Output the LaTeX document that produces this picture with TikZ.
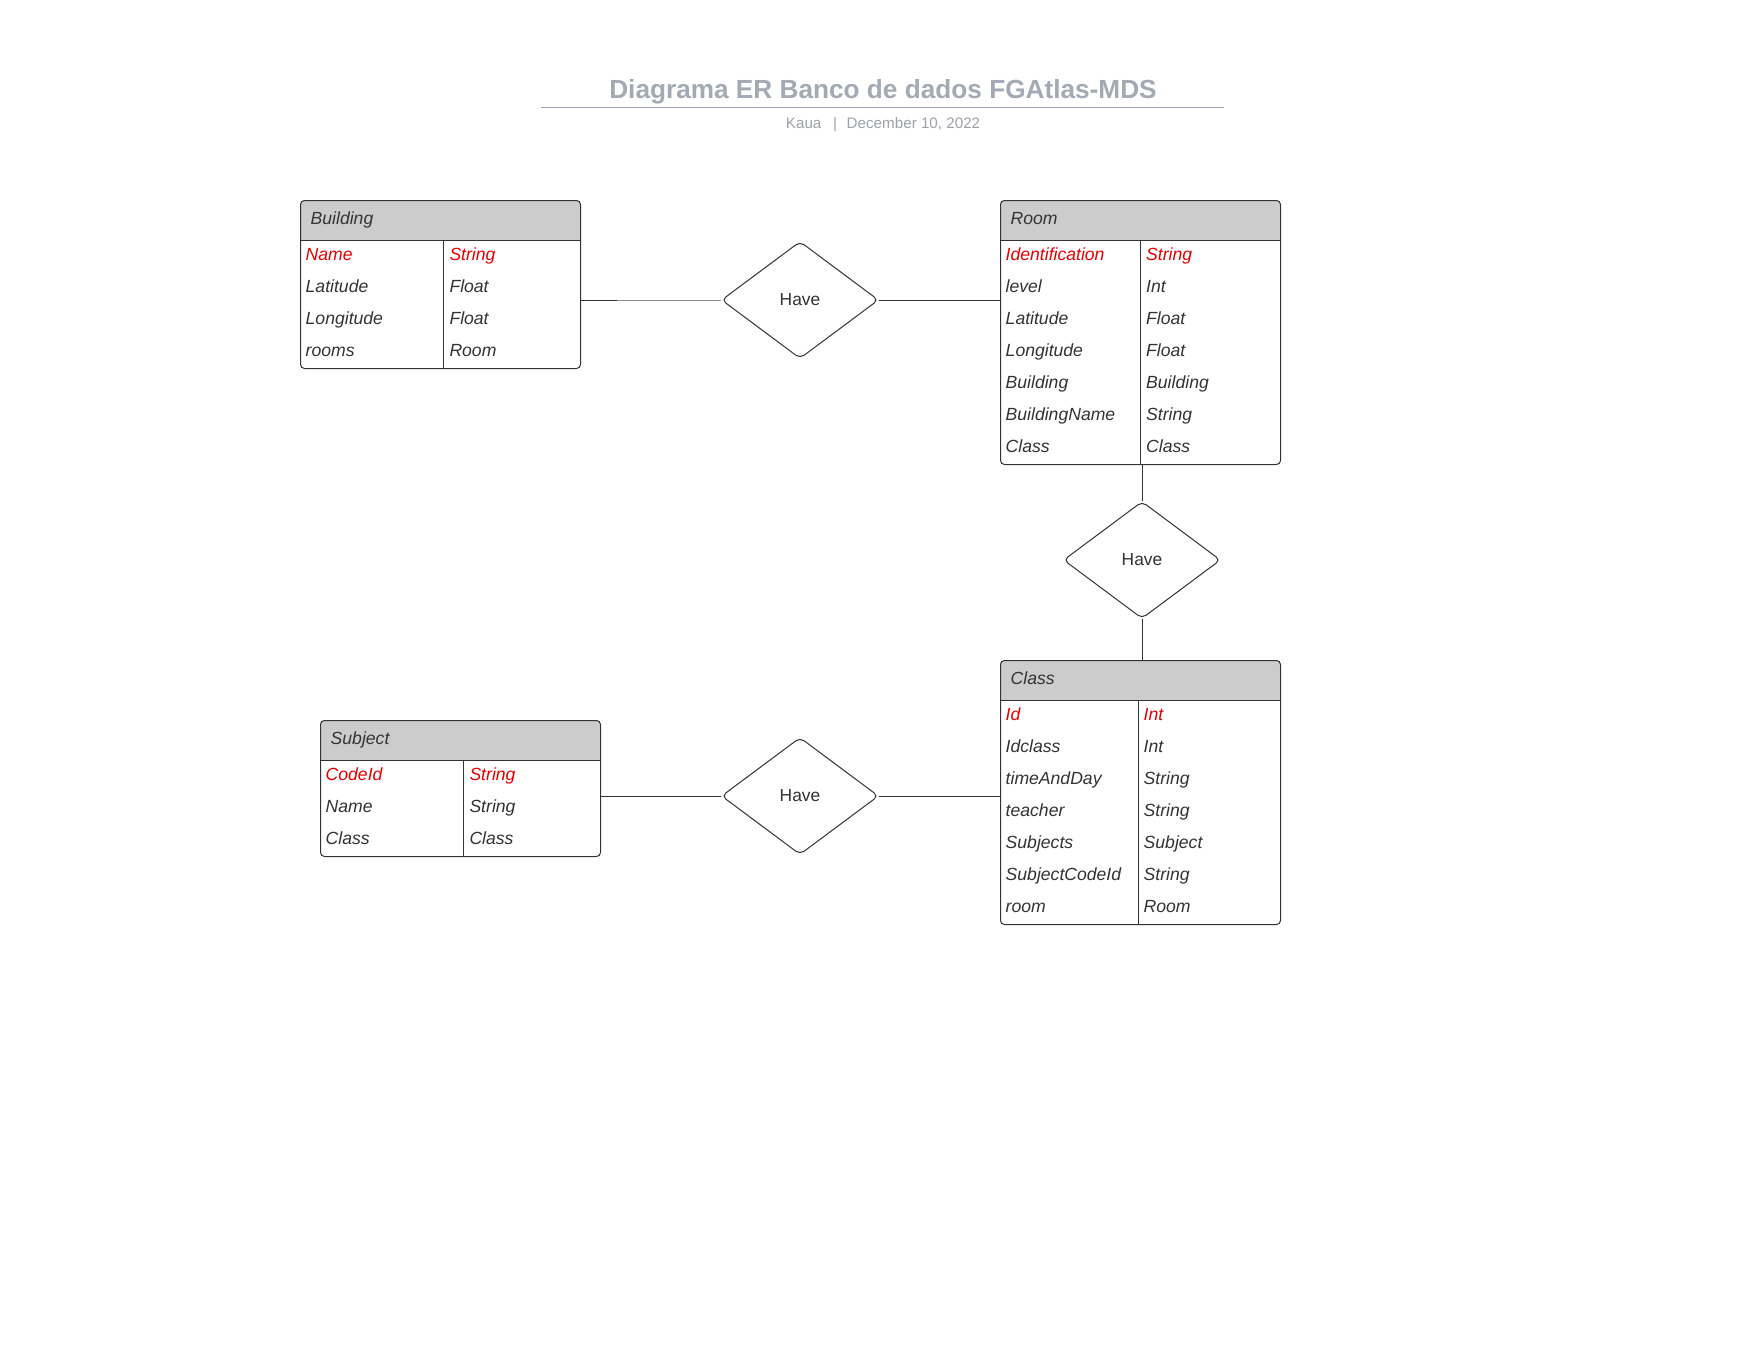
\documentclass[tikz,border=0pt]{standalone}
\usepackage{fontspec}
\setmainfont{Liberation Sans}
\usetikzlibrary{shapes.geometric}
\definecolor{ink}{HTML}{333333}
\definecolor{keyred}{HTML}{E50000}
\definecolor{headgray}{HTML}{CCCCCC}
\definecolor{titlegray}{HTML}{A3AAB4}
\definecolor{subgray}{HTML}{9EA2A8}
\definecolor{rulegray}{HTML}{9AA1AD}
\tikzset{
  tablebox/.style={draw=ink, line width=1pt, rounded corners=4pt, inner sep=0pt, anchor=north west},
  attr/.style={anchor=base west, inner sep=0pt, text=ink, font=\fontsize{17.6pt}{20pt}\selectfont\itshape},
  keyattr/.style={attr, text=keyred},
  rel/.style={diamond, draw=ink, line width=1pt, rounded corners=5pt, inner sep=0pt,
    minimum width=157pt, minimum height=117pt, font=\fontsize{17.4pt}{20pt}\selectfont, text=ink},
  conn/.style={draw=ink, line width=0.9pt},
  grid/.style={draw=ink, line width=1pt},
}
\begin{document}
\begin{tikzpicture}[x=1pt,y=-1pt]
\useasboundingbox[fill=white] (0,0) rectangle (1760,1360);

% Title
\node[anchor=base, inner sep=0pt, text=titlegray, font=\fontsize{26.2pt}{30pt}\selectfont\bfseries] (title) at (883,98) {Diagrama ER Banco de dados FGAtlas-MDS};
\coordinate (rl) at (541,107.7);
\coordinate (rr) at (1223.5,107.7);
\draw[rulegray, line width=1.4pt] (rl) -- (rr);
\node[anchor=base west, inner sep=0pt, text=subgray, font=\fontsize{15.2pt}{18pt}\selectfont] (author) at (785.7,128.3) {Kaua};
\node[anchor=base, inner sep=0pt, text=subgray, font=\fontsize{15.2pt}{18pt}\selectfont] (sep) at (835,128.3) {|};
\node[anchor=base west, inner sep=0pt, text=subgray, font=\fontsize{15.2pt}{18pt}\selectfont] (date) at (846.5,128.3) {December 10, 2022};

% ---------- Building ----------
\begin{scope}
\clip[rounded corners=4pt] (300,200) rectangle (580,368);
\fill[headgray] (300,200) rectangle (580,240.5);
\end{scope}
\node[tablebox, minimum width=280pt, minimum height=168pt] (bld) at (300,200) {};
\draw[grid] (300,240.5) -- (580,240.5);
\draw[grid] (443.3,240.5) -- (443.3,368);
\node[attr] (bld-h) at (310.5,224.8) {Building};
\node[keyattr] (bld-a1) at (305.5,260.3) {Name};
\node[keyattr] (bld-t1) at (449.3,260.3) {String};
\foreach \a/\t [count=\i from 2] in {Latitude/Float,Longitude/Float,rooms/Room}{
  \node[attr] (bld-a\i) at (305.5,{260.3+32*(\i-1)}) {\a};
  \node[attr] (bld-t\i) at (449.3,{260.3+32*(\i-1)}) {\t};
}

% ---------- Room ----------
\begin{scope}
\clip[rounded corners=4pt] (1000,200) rectangle (1280,464);
\fill[headgray] (1000,200) rectangle (1280,240.5);
\end{scope}
\node[tablebox, minimum width=280pt, minimum height=264pt] (room) at (1000,200) {};
\draw[grid] (1000,240.5) -- (1280,240.5);
\draw[grid] (1140.7,240.5) -- (1140.7,464);
\node[attr] (room-h) at (1010.5,224.8) {Room};
\node[keyattr] (room-a1) at (1005.5,260.3) {Identification};
\node[keyattr] (room-t1) at (1146,260.3) {String};
\foreach \a/\t [count=\i from 2] in {level/Int,Latitude/Float,Longitude/Float,Building/Building,BuildingName/String,Class/Class}{
  \node[attr] (room-a\i) at (1005.5,{260.3+32*(\i-1)}) {\a};
  \node[attr] (room-t\i) at (1146,{260.3+32*(\i-1)}) {\t};
}

% ---------- Class ----------
\begin{scope}
\clip[rounded corners=4pt] (1000,660) rectangle (1280,924);
\fill[headgray] (1000,660) rectangle (1280,700.5);
\end{scope}
\node[tablebox, minimum width=280pt, minimum height=264pt] (cls) at (1000,660) {};
\draw[grid] (1000,700.5) -- (1280,700.5);
\draw[grid] (1138.3,700.5) -- (1138.3,924);
\node[attr] (cls-h) at (1010.5,684.8) {Class};
\node[keyattr] (cls-a1) at (1005.5,720.5) {Id};
\node[keyattr] (cls-t1) at (1143.5,720.5) {Int};
\foreach \a/\t [count=\i from 2] in {Idclass/Int,timeAndDay/String,teacher/String,Subjects/Subject,SubjectCodeId/String,room/Room}{
  \node[attr] (cls-a\i) at (1005.5,{720.5+32*(\i-1)}) {\a};
  \node[attr] (cls-t\i) at (1143.5,{720.5+32*(\i-1)}) {\t};
}

% ---------- Subject ----------
\begin{scope}
\clip[rounded corners=4pt] (320,720) rectangle (600,856);
\fill[headgray] (320,720) rectangle (600,760.5);
\end{scope}
\node[tablebox, minimum width=280pt, minimum height=136pt] (sub) at (320,720) {};
\draw[grid] (320,760.5) -- (600,760.5);
\draw[grid] (463.3,760.5) -- (463.3,856);
\node[attr] (sub-h) at (330.5,744.8) {Subject};
\node[keyattr] (sub-a1) at (325.5,780.3) {CodeId};
\node[keyattr] (sub-t1) at (469.3,780.3) {String};
\foreach \a/\t [count=\i from 2] in {Name/String,Class/Class}{
  \node[attr] (sub-a\i) at (325.5,{780.3+32*(\i-1)}) {\a};
  \node[attr] (sub-t\i) at (469.3,{780.3+32*(\i-1)}) {\t};
}

% ---------- Relationships ----------
\node[rel] (d1) at (800,300) {Have};
\node[rel] (d2) at (1142,560) {Have};
\node[rel] (d3) at (800,796) {Have};

\coordinate (stub) at (617,300);
\draw[conn] (bld.east |- d1.west) -- (stub);
\draw[conn, draw=black!45] (stub) -- (d1.west);
\draw[conn] (d1.east) -- (room.west |- d1.east);

\draw[conn] (d2.north |- room.south) -- (d2.north);
\draw[conn] (d2.south) -- (d2.south |- cls.north);

\draw[conn] (sub.east |- d3.west) -- (d3.west);
\draw[conn] (d3.east) -- (cls.west |- d3.east);
\end{tikzpicture}
\end{document}
